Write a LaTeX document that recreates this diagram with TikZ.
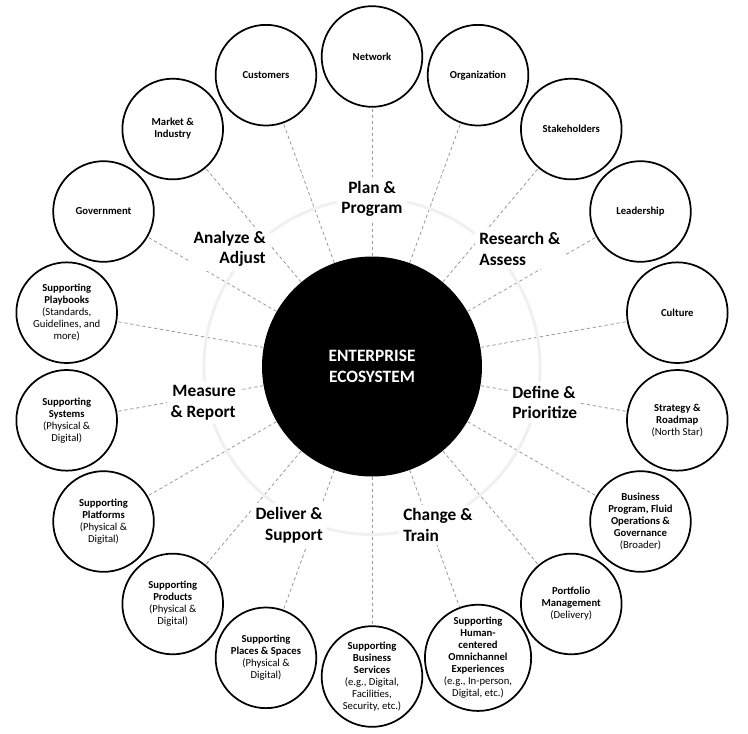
\documentclass[tikz,border=0pt]{standalone}
\usepackage{fontspec}
\setmainfont{Carlito}
\usepackage{tikz}
\usetikzlibrary{positioning}

\newcommand{\reg}{\mdseries}

\begin{document}
\begin{tikzpicture}[
  x=0.75pt, y=0.75pt,
  orbit/.style={draw, circle, line width=1.3pt, fill=white, minimum size=75.5pt, inner sep=0pt, align=center, font=\fontsize{8}{9}\selectfont\bfseries},
  hub/.style={circle, fill=black, minimum size=165pt, text=white, align=center, font=\fontsize{13}{15.5}\selectfont\bfseries},
  phase/.style={fill=white, inner sep=3pt, font=\fontsize{13}{15.5}\selectfont\bfseries},
  link/.style={draw=black!40, line width=0.6pt, dash pattern=on 2.5pt off 2pt},
  ring/.style={draw=black!6, line width=2.2pt}
]
\useasboundingbox (-372,-366.5) rectangle (376,366.5);

% --- centre ---
\node[hub] (hub) at (0,0) {ENTERPRISE\\ECOSYSTEM};

% --- outer circles, every 20 degrees clockwise from the top ---
\foreach \nm/\ang/\txt in {
  network/90/{Network},
  organization/70/{Organization},
  stakeholders/50/{Stakeholders},
  leadership/30/{Leadership},
  culture/10/{Culture},
  strategy/-10/{Strategy \&\\Roadmap\\\reg(North Star)},
  business/-30/{Business\\Program, Fluid\\Operations \&\\Governance\\\reg(Broader)},
  portfolio/-50/{Portfolio\\Management\\\reg(Delivery)},
  omnichannel/-70/{Supporting\\Human-\\centered\\Omnichannel\\Experiences\\\reg(e.g., In-person,\\\reg Digital, etc.)},
  services/-90/{Supporting\\Business\\Services\\\reg(e.g., Digital,\\\reg Facilities,\\\reg Security, etc.)},
  places/-110/{Supporting\\Places \& Spaces\\\reg(Physical \&\\\reg Digital)},
  products/-130/{Supporting\\Products\\\reg(Physical \&\\\reg Digital)},
  platforms/-150/{Supporting\\Platforms\\\reg(Physical \&\\\reg Digital)},
  systems/-170/{Supporting\\Systems\\\reg(Physical \&\\\reg Digital)},
  playbooks/170/{Supporting\\Playbooks\\\reg(Standards,\\\reg Guidelines, and\\\reg more)},
  government/150/{Government},
  market/130/{Market \&\\Industry},
  customers/110/{Customers}}{
  \node[orbit] (\nm) at (\ang:310) {\txt};
}

% dashed spokes from the centre out to every circle
\foreach \nm in {network, organization, stakeholders, leadership, culture, strategy, business, portfolio, omnichannel, services, places, products, platforms, systems, playbooks, government, market, customers}
  \draw[link] (hub) -- (\nm);

% faint cycle ring behind the phase labels
\draw[ring] (hub.center) circle (168);

% --- the seven phases ---
\node[phase, align=center] (plan) at (0,167.5) {Plan \&\\Program};
\node[phase, align=left, anchor=west] (research) at (103,117.5) {Research \&\\Assess};
\node[phase, align=left, anchor=west] (define) at (136,-36) {Define \&\\Prioritize};
\node[phase, align=left, anchor=west] (change) at (27,-158.5) {Change \&\\Train};
\node[phase, align=right, anchor=east] (deliver) at (-45,-158.5) {Deliver \&\\Support};
\node[phase, align=right, anchor=east] (measure) at (-132,-36) {Measure\\\& Report};
\node[phase, align=right, anchor=east] (analyze) at (-102,117.5) {Analyze \&\\Adjust};
\end{tikzpicture}
\end{document}
